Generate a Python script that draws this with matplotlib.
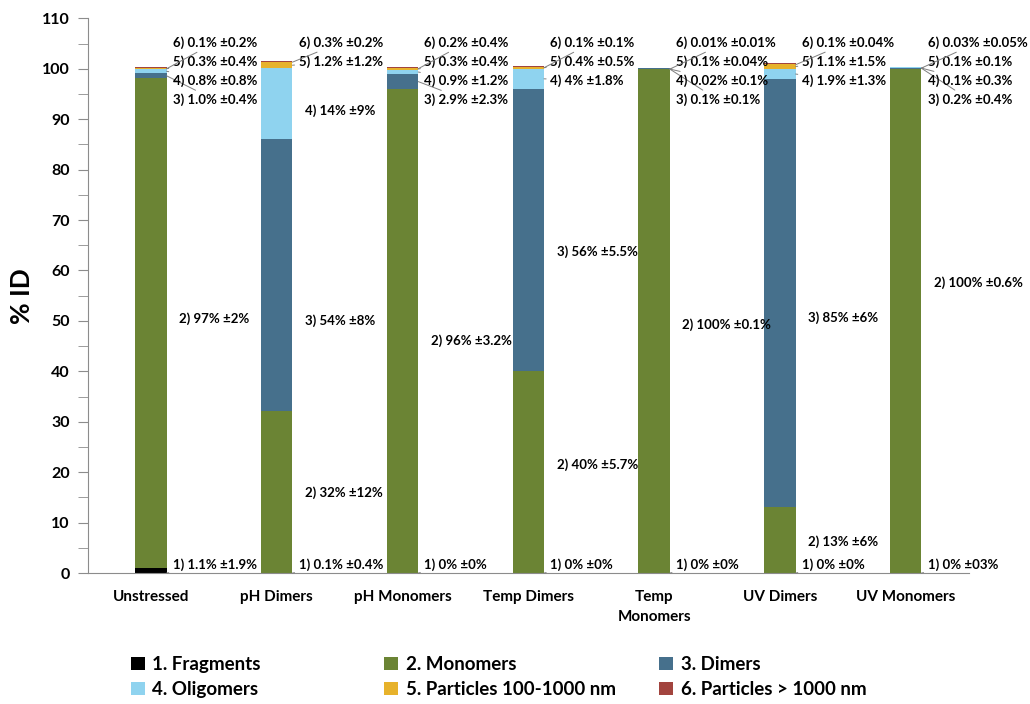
import numpy as np
import matplotlib.pyplot as plt
from matplotlib.patches import Patch

plt.rcParams['font.family'] = ['Lato', 'DejaVu Sans']
plt.rcParams['font.weight'] = 'bold'

categories = ['Unstressed', 'pH Dimers', 'pH Monomers', 'Temp Dimers',
              'Temp\nMonomers', 'UV Dimers', 'UV Monomers']
series_names = ['1. Fragments', '2. Monomers', '3. Dimers', '4. Oligomers',
                '5. Particles 100-1000 nm', '6. Particles > 1000 nm']
colors = ['#000000', '#6b8434', '#46708c', '#8fd3ef', '#e7b22b', '#a2443e']

# mean % ID per species (as printed) and the +/- spread
fragments = ['1.1', '0.1', '0', '0', '0', '0', '0']
fragments_err = ['1.9', '0.4', '0', '0', '0', '0', '03']
monomers = ['97', '32', '96', '40', '100', '13', '100']
monomers_err = ['2', '12', '3.2', '5.7', '0.1', '6', '0.6']
dimers = ['1.0', '54', '2.9', '56', '0.1', '85', '0.2']
dimers_err = ['0.4', '8', '2.3', '5.5', '0.1', '6', '0.4']
oligomers = ['0.8', '14', '0.9', '4', '0.02', '1.9', '0.1']
oligomers_err = ['0.8', '9', '1.2', '1.8', '0.1', '1.3', '0.3']
particles_small = ['0.3', '1.2', '0.3', '0.4', '0.1', '1.1', '0.1']
particles_small_err = ['0.4', '1.2', '0.4', '0.5', '0.04', '1.5', '0.1']
particles_large = ['0.1', '0.3', '0.2', '0.1', '0.01', '0.1', '0.03']
particles_large_err = ['0.2', '0.2', '0.4', '0.1', '0.01', '0.04', '0.05']

series = [fragments, monomers, dimers, oligomers, particles_small, particles_large]
errors = [fragments_err, monomers_err, dimers_err, oligomers_err,
          particles_small_err, particles_large_err]

# where the labels of the large segments sit (bar, series) -> y
big_label_y = {(0, 1): 50.5, (1, 1): 15.9, (1, 2): 50.0, (1, 3): 91.6,
               (2, 1): 46.0, (3, 1): 21.4, (3, 2): 63.8, (4, 1): 49.2,
               (5, 1): 6.3, (5, 2): 50.7, (6, 1): 57.5}

fig = plt.figure(figsize=(10.3, 7.04), dpi=100)
ax = fig.add_axes([0.0854, 0.186, 0.855, 0.788])

x = np.arange(len(categories))
width = 0.25
bottom = np.zeros(len(categories))
for vals, col in zip(series, colors):
    v = np.array(vals, dtype=float)
    ax.bar(x, v, width, bottom=bottom, color=col, edgecolor='none')
    bottom += v

# segment labels
line_kw = dict(arrowstyle='-', color='#7f7f7f', lw=0.7, shrinkA=1, shrinkB=0)
for i in range(len(categories)):
    right = x[i] + width / 2
    base = 0.0
    for k, (vals, errs) in enumerate(zip(series, errors)):
        v = float(vals[i])
        txt = f'{k + 1}) {vals[i]}% ±{errs[i]}%'
        mid = base + v / 2
        if k == 0:
            ax.annotate(txt, xy=(right, 0), xytext=(right + 0.05, 1.6),
                        ha='left', va='center', fontsize=9.5,
                        arrowprops=line_kw)
        elif v >= 10:
            ax.text(right + 0.1, big_label_y[(i, k)], txt, ha='left',
                    va='center', fontsize=9.5)
        else:
            ly = 105.2 - (5 - k) * 3.8
            ax.annotate(txt, xy=(right, min(mid, bottom[i] - 0.3)),
                        xytext=(right + 0.05, ly), ha='left', va='center',
                        fontsize=9.5, arrowprops=line_kw)
        base += v

ax.set_xlim(-0.5, len(categories) - 0.5)
ax.set_ylim(0, 110)
ax.set_yticks(np.arange(0, 111, 10))
ax.set_yticks(np.arange(5, 110, 10), minor=True)
ax.set_xticks(x)
ax.set_xticklabels(categories, fontsize=11, fontweight='bold', linespacing=1.55)
ax.tick_params(axis='x', length=0, pad=12)
ax.tick_params(axis='y', which='both', length=7, color='#8c8c8c',
               labelsize=11.5, pad=6)
for s in ['top', 'right']:
    ax.spines[s].set_visible(False)
for s in ['left', 'bottom']:
    ax.spines[s].set_color('#8c8c8c')
ax.set_ylabel('% ID', fontsize=19, fontweight='bold', labelpad=6)

# legend in three columns
handles = [Patch(facecolor=c, edgecolor='none') for c in colors]
col_x = [0.127, 0.373, 0.640]
for j, cx in enumerate(col_x):
    fig.legend([handles[j], handles[j + 3]], [series_names[j], series_names[j + 3]],
               loc='upper left', bbox_to_anchor=(cx, 0.068),
               frameon=False, fontsize=13.5, handlelength=0.75,
               handleheight=0.75, handletextpad=0.4, labelspacing=0.42,
               borderaxespad=0, borderpad=0)

fig.savefig('out.png', dpi=100)
